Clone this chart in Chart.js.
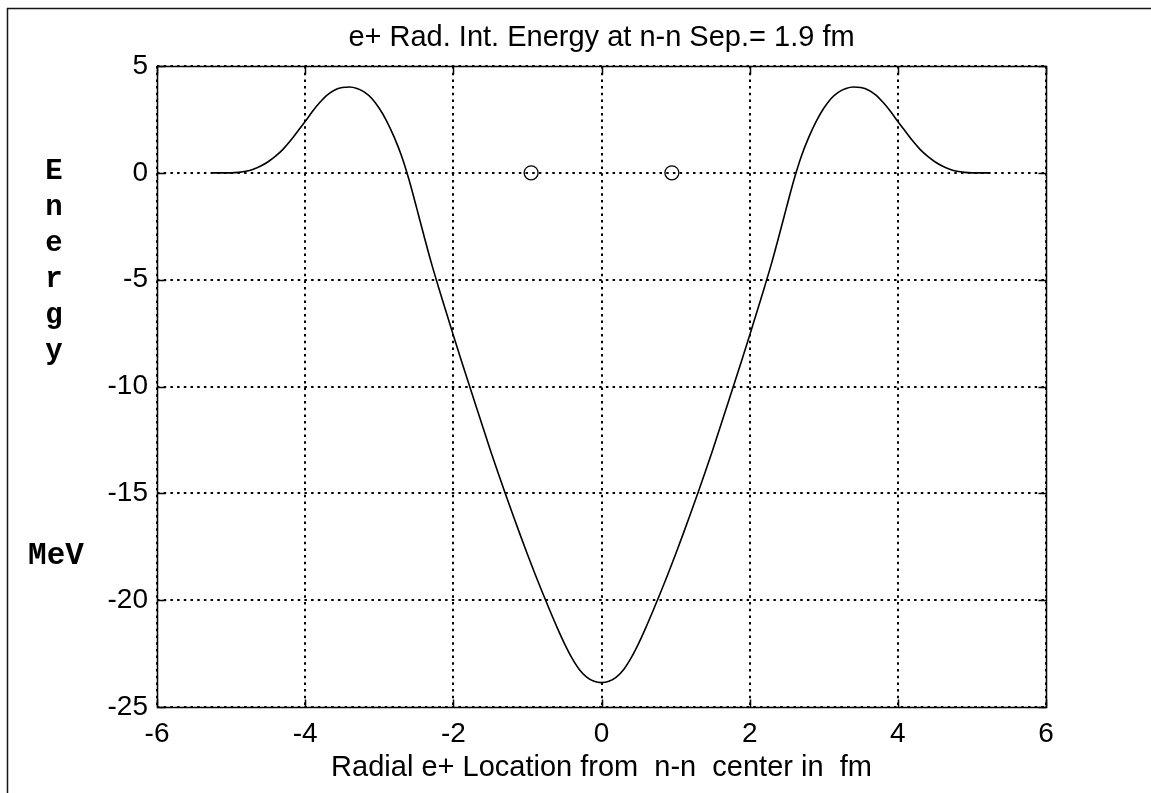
<!DOCTYPE html>
<html>
<head>
<meta charset="utf-8">
<script src="https://cdn.jsdelivr.net/npm/chart.js@4/dist/chart.umd.min.js"></script>
<style>
  html, body { margin: 0; padding: 0; background: #fff; }
  #wrap { width: 1151px; height: 793px; position: relative; }
</style>
</head>
<body>
<div id="wrap"><canvas id="energyChart"></canvas></div>
<script>
// radial positron location (fm) and interaction energy (MeV)
const radius = [
  -5.25, -5.0, -4.9, -4.8, -4.7, -4.6, -4.5, -4.4, -4.3, -4.2, -4.1,
  -4.0, -3.9, -3.8, -3.7, -3.6, -3.5, -3.4, -3.3, -3.2, -3.1,
  -3.0, -2.9, -2.8, -2.7, -2.6, -2.5, -2.4, -2.3, -2.2, -2.1,
  -2.0, -1.9, -1.8, -1.7, -1.6, -1.5, -1.4, -1.3, -1.2, -1.1,
  -1.0, -0.9, -0.8, -0.7, -0.6, -0.5, -0.4, -0.3, -0.2, -0.1,
  0,
  0.1, 0.2, 0.3, 0.4, 0.5, 0.6, 0.7, 0.8, 0.9, 1.0,
  1.1, 1.2, 1.3, 1.4, 1.5, 1.6, 1.7, 1.8, 1.9, 2.0,
  2.1, 2.2, 2.3, 2.4, 2.5, 2.6, 2.7, 2.8, 2.9, 3.0,
  3.1, 3.2, 3.3, 3.4, 3.5, 3.6, 3.7, 3.8, 3.9, 4.0,
  4.1, 4.2, 4.3, 4.4, 4.5, 4.6, 4.7, 4.8, 4.9, 5.0, 5.25
];
const energy = [
  0, 0, 0.02, 0.07, 0.17, 0.32, 0.52, 0.78, 1.1, 1.5, 1.95,
  2.4, 2.88, 3.3, 3.65, 3.88, 3.99, 4.02, 3.95, 3.78, 3.48,
  3.02, 2.42, 1.68, 0.8, -0.3, -1.58, -2.9, -4.18, -5.35, -6.48,
  -7.6, -8.7, -9.78, -10.85, -11.92, -12.98, -14.0, -15.0, -15.97, -16.92,
  -17.85, -18.75, -19.62, -20.46, -21.27, -22.03, -22.7, -23.24, -23.6, -23.8,
  -23.86,
  -23.8, -23.6, -23.24, -22.7, -22.03, -21.27, -20.46, -19.62, -18.75, -17.85,
  -16.92, -15.97, -15.0, -14.0, -12.98, -11.92, -10.85, -9.78, -8.7, -7.6,
  -6.48, -5.35, -4.18, -2.9, -1.58, -0.3, 0.8, 1.68, 2.42, 3.02,
  3.48, 3.78, 3.95, 4.02, 3.99, 3.88, 3.65, 3.3, 2.88, 2.4,
  1.95, 1.5, 1.1, 0.78, 0.52, 0.32, 0.17, 0.07, 0.02, 0, 0
];

// nucleon positions marked with circles
const nucleonX = [-0.95, 0.95];
const nucleonY = [0, 0];

const xTicks = [-6, -4, -2, 0, 2, 4, 6];
const yTicks = [-25, -20, -15, -10, -5, 0, 5];

const titleText = "e+ Rad. Int. Energy at n-n Sep.= 1.9 fm";
const xLabel = "Radial e+ Location from  n-n  center in  fm";
const yLabelLetters = ["E", "n", "e", "r", "g", "y"];
const yUnit = "MeV";

const sansFont = '"Liberation Sans", Arial, sans-serif';
const monoFont = '"Liberation Mono", "Courier New", monospace';

const decorations = {
  id: "decorations",
  afterDatasetsDraw(chart) {
    const { ctx, chartArea: a, scales } = chart;
    const l = Math.round(a.left) + 0.5, r = Math.round(a.right) + 0.5;
    const t = Math.round(a.top) + 0.5, b = Math.round(a.bottom) + 0.5;
    ctx.save();
    ctx.strokeStyle = "#000";
    ctx.lineWidth = 1.5;
    ctx.setLineDash([]);
    ctx.strokeRect(l, t, r - l, b - t);
    // inward tick marks on all four sides
    ctx.beginPath();
    xTicks.forEach((v) => {
      const px = Math.round(scales.x.getPixelForValue(v)) + 0.5;
      ctx.moveTo(px, b); ctx.lineTo(px, b - 8);
      ctx.moveTo(px, t); ctx.lineTo(px, t + 8);
    });
    yTicks.forEach((v) => {
      const py = Math.round(scales.y.getPixelForValue(v)) + 0.5;
      ctx.moveTo(l, py); ctx.lineTo(l + 8, py);
      ctx.moveTo(r, py); ctx.lineTo(r - 8, py);
    });
    ctx.stroke();
    ctx.restore();
  },
  afterDraw(chart) {
    const { ctx, chartArea: a } = chart;
    const cx = (a.left + a.right) / 2;
    ctx.save();
    // outer frame (left and top edges of the figure window)
    ctx.strokeStyle = "#1a1010";
    ctx.lineWidth = 1.5;
    ctx.beginPath();
    ctx.moveTo(7.5, chart.height);
    ctx.lineTo(7.5, 8.5);
    ctx.lineTo(chart.width, 8.5);
    ctx.stroke();

    ctx.fillStyle = "#000";
    ctx.font = "29px " + sansFont;
    ctx.textAlign = "center";
    ctx.textBaseline = "middle";
    ctx.fillText(titleText, cx, 38);
    ctx.fillText(xLabel, cx, 768);

    ctx.font = "bold 29px " + monoFont;
    ctx.textBaseline = "alphabetic";
    yLabelLetters.forEach((ch, i) => {
      ctx.fillText(ch, 54, 179 + i * 36);
    });
    ctx.font = "bold 31px " + monoFont;
    ctx.fillText(yUnit, 56, 564);
    ctx.restore();
  }
};

new Chart(document.getElementById("energyChart"), {
  type: "scatter",
  data: {
    datasets: [
      {
        label: "Energy",
        data: radius.map((x, i) => ({ x: x, y: energy[i] })),
        showLine: true,
        borderColor: "#000",
        borderWidth: 1.6,
        pointRadius: 0,
        cubicInterpolationMode: "monotone",
        fill: false,
      },
      {
        label: "Nucleons",
        data: nucleonX.map((x, i) => ({ x: x, y: nucleonY[i] })),
        showLine: false,
        pointStyle: "circle",
        pointRadius: 7,
        borderWidth: 1.3,
        borderColor: "#000",
        backgroundColor: "rgba(0,0,0,0)",
      },
    ],
  },
  options: {
    responsive: true,
    maintainAspectRatio: false,
    animation: false,
    layout: { padding: { top: 66, right: 105, bottom: 0, left: 0 } },
    plugins: {
      legend: { display: false },
      tooltip: { enabled: false },
      title: { display: false },
    },
    scales: {
      x: {
        type: "linear",
        min: -6,
        max: 6,
        afterBuildTicks: (scale) => { scale.ticks = xTicks.map((v) => ({ value: v })); },
        afterFit: (scale) => { scale.height = 86; },
        grid: { color: "#000", lineWidth: 2, drawTicks: false },
        border: { display: false, dash: [2.5, 4.2] },
        ticks: {
          color: "#000",
          padding: 10,
          maxRotation: 0,
          font: { family: sansFont, size: 28 },
        },
      },
      y: {
        type: "linear",
        min: -25,
        max: 5,
        afterBuildTicks: (scale) => { scale.ticks = yTicks.map((v) => ({ value: v })); },
        afterFit: (scale) => { scale.width = 157; },
        grid: { color: "#000", lineWidth: 2, drawTicks: false },
        border: { display: false, dash: [2.5, 4.2] },
        ticks: {
          color: "#000",
          padding: 9,
          font: { family: sansFont, size: 28 },
        },
      },
    },
  },
  plugins: [decorations],
});
</script>
</body>
</html>
